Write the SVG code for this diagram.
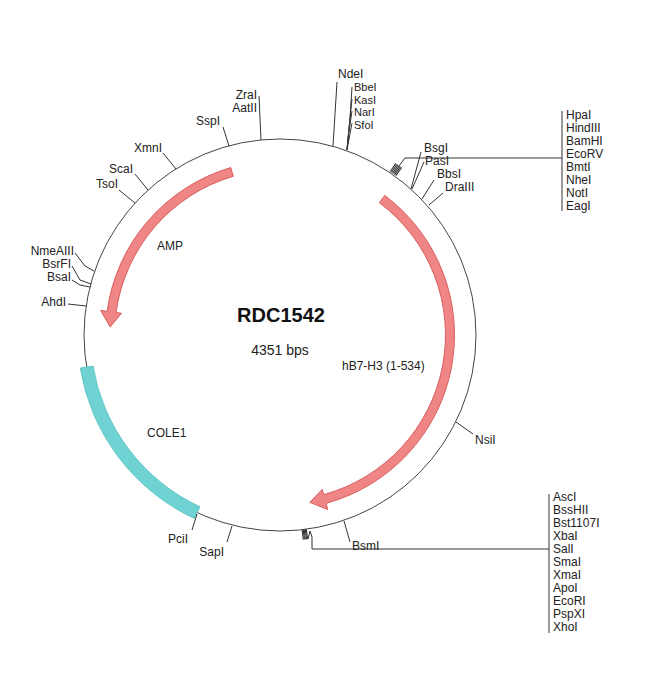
<svg xmlns="http://www.w3.org/2000/svg" width="650" height="676" viewBox="0 0 650 676">
<style>
text{font-family:"Liberation Sans",Arial,sans-serif;fill:#222}
.lb{font-size:12px}
.sm{font-size:11px}
.e{text-anchor:end}
.ln{fill:none;stroke:#333;stroke-width:1}
.tk{stroke:#333;stroke-width:1.1}
.arr{fill:#f08585;stroke:#d95e5e;stroke-width:1}
</style>
<rect width="650" height="676" fill="#fff"/>
<g id="backbone">
<circle cx="280" cy="335" r="196" fill="none" stroke="#444" stroke-width="1"/>
</g>
<g id="COLE1">
<path d="M194.42,518.53 A202.5 202.5 0 0 1 80.22,368.07 L93.04,365.95 A189.5 189.5 0 0 0 199.91,506.75 Z" fill="#6fd3d3" stroke="#58bfbf" stroke-width="0.8"/>
<text class="lb" x="147" y="437" font-size="11">COLE1</text>
</g>
<g id="AMP">
<path class="arr" d="M230.74,167.60 A174.5 174.5 0 0 0 107.11,311.32 L100.67,310.43 L110.19,326.99 L121.48,313.28 L116.03,312.54 A165.5 165.5 0 0 1 233.28,176.24 Z"/>
<text class="lb" x="157" y="250">AMP</text>
</g>
<g id="hB7-H3">
<path class="arr" d="M384.77,195.45 A174.5 174.5 0 0 1 326.05,503.32 L327.76,509.59 L309.81,502.37 L322.22,489.33 L323.67,494.63 A165.5 165.5 0 0 0 379.37,202.65 Z"/>
<text class="lb" x="342" y="370">hB7-H3 (1-534)</text>
</g>
<g id="title">
<text x="281" y="322" text-anchor="middle" font-size="20" font-weight="bold" style="fill:#111">RDC1542</text>
<text x="280" y="355" text-anchor="middle" font-size="14">4351 bps</text>
</g>
<g id="connectors">
<polyline class="ln" points="337,82 333,146"/>
<polyline class="ln" points="352,87 350,118 347,150"/>
<polyline class="ln" points="352,99 349,128 347,150"/>
<polyline class="ln" points="352,111 348,138 347,150"/>
<polyline class="ln" points="352,123 347,150"/>
<polyline class="ln" points="259,96 261,140"/>
<polyline class="ln" points="223,127 229,146"/>
<polyline class="ln" points="421,152 411,189"/>
<polyline class="ln" points="424,162 416,180 412,189"/>
<polyline class="ln" points="434,180 422,199"/>
<polyline class="ln" points="443,193 429,205"/>
<polyline class="ln" points="163,153 176,169"/>
<polyline class="ln" points="135,174 148,190"/>
<polyline class="ln" points="119,190 135,203"/>
<polyline class="ln" points="75,253 85,266 94,271"/>
<polyline class="ln" points="72,266 80,280 91,284"/>
<polyline class="ln" points="72,280 80,285 90,287"/>
<polyline class="ln" points="68,304 86,306"/>
<polyline class="ln" points="192,530 197,514"/>
<polyline class="ln" points="227,542 232,526"/>
<polyline class="ln" points="350,542 344,521"/>
<polyline class="ln" points="473,434 456,422"/>
<polyline class="ln" points="399,166 405,158 562,158"/>
<polyline class="ln" points="562,111 562,211"/>
<polyline class="ln" points="308,539 310,531 312,537 312,549 549,549"/>
<polyline class="ln" points="549,494 549,633"/>
</g>
<g id="mcs1">
<line class="tk" x1="390.16" y1="171.69" x2="395.75" y2="163.40"/>
<line class="tk" x1="391.31" y1="172.45" x2="396.96" y2="164.20"/>
<line class="tk" x1="392.43" y1="173.24" x2="398.13" y2="165.03"/>
<line class="tk" x1="393.55" y1="174.03" x2="399.31" y2="165.86"/>
<line class="tk" x1="394.67" y1="174.82" x2="400.49" y2="166.69"/>
<line class="tk" x1="395.80" y1="175.63" x2="401.67" y2="167.54"/>
</g>
<g id="mcs2">
<line class="tk" x1="306.26" y1="529.24" x2="307.60" y2="539.15"/>
<line class="tk" x1="305.24" y1="529.37" x2="306.53" y2="539.29"/>
<line class="tk" x1="304.23" y1="529.49" x2="305.46" y2="539.41"/>
<line class="tk" x1="303.21" y1="529.63" x2="304.39" y2="539.56"/>
<line class="tk" x1="302.19" y1="529.75" x2="303.32" y2="539.68"/>
</g>
<g id="sites">
<text class="lb" x="338" y="78">NdeI</text>
<text class="sm" x="354" y="91">BbeI</text>
<text class="sm" x="354" y="103.5">KasI</text>
<text class="sm" x="354" y="116">NarI</text>
<text class="sm" x="354" y="128.5">SfoI</text>
<text class="lb e" x="257" y="99">ZraI</text>
<text class="lb e" x="257" y="112">AatII</text>
<text class="lb e" x="220" y="125">SspI</text>
<text class="lb" x="424" y="152">BsgI</text>
<text class="lb" x="425" y="165">PasI</text>
<text class="lb" x="437" y="178">BbsI</text>
<text class="lb" x="445" y="191">DraIII</text>
<text class="lb e" x="162" y="152">XmnI</text>
<text class="lb e" x="133" y="173">ScaI</text>
<text class="lb e" x="118" y="188">TsoI</text>
<text class="lb e" x="74" y="255">NmeAIII</text>
<text class="lb e" x="71" y="268">BsrFI</text>
<text class="lb e" x="71" y="281">BsaI</text>
<text class="lb e" x="66" y="306">AhdI</text>
<text class="lb e" x="188" y="543">PciI</text>
<text class="lb e" x="224" y="556">SapI</text>
<text class="lb" x="352" y="550">BsmI</text>
<text class="lb" x="475" y="444">NsiI</text>
</g>
<g id="list1">
<text class="lb" x="566" y="119">HpaI</text>
<text class="lb" x="566" y="132">HindIII</text>
<text class="lb" x="566" y="145">BamHI</text>
<text class="lb" x="566" y="158">EcoRV</text>
<text class="lb" x="566" y="171">BmtI</text>
<text class="lb" x="566" y="184">NheI</text>
<text class="lb" x="566" y="197">NotI</text>
<text class="lb" x="566" y="210">EagI</text>
</g>
<g id="list2">
<text class="lb" x="553" y="501">AscI</text>
<text class="lb" x="553" y="514">BssHII</text>
<text class="lb" x="553" y="527">Bst1107I</text>
<text class="lb" x="553" y="540">XbaI</text>
<text class="lb" x="553" y="553">SalI</text>
<text class="lb" x="553" y="566">SmaI</text>
<text class="lb" x="553" y="579">XmaI</text>
<text class="lb" x="553" y="592">ApoI</text>
<text class="lb" x="553" y="605">EcoRI</text>
<text class="lb" x="553" y="618">PspXI</text>
<text class="lb" x="553" y="631">XhoI</text>
</g>
</svg>
